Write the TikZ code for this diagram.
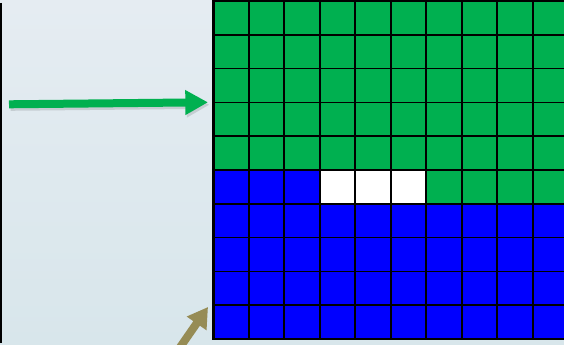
\documentclass[tikz,border=0pt]{standalone}
\usepackage{tikz}
\usetikzlibrary{arrows.meta}

\definecolor{cellgreen}{HTML}{00B050}
\definecolor{cellblue}{HTML}{0000FF}
\definecolor{pointerolive}{HTML}{968C55}
\definecolor{bgtop}{HTML}{E5ECF2}
\definecolor{bgbot}{HTML}{D8E6EB}

\begin{document}
\begin{tikzpicture}[x=0.75pt,y=-0.75pt,>=Triangle]
  \useasboundingbox (0,0) rectangle (564,345);
  \clip (0,0) rectangle (564,345);
  \shade[top color=bgtop,bottom color=bgbot] (0,0) rectangle (564,345);
  \draw[line width=1.1pt] (1,3)--(1,343);
  % cells
  \def\gx{213.3} \def\gy{1} \def\cw{35.5} \def\rh{33.8}
  \fill[cellgreen] (\gx,\gy) rectangle ({\gx+10*\cw},{\gy+6*\rh});
  \fill[cellblue] (\gx,{\gy+6*\rh}) rectangle ({\gx+10*\cw},{\gy+10*\rh});
  \fill[cellblue] (\gx,{\gy+5*\rh}) rectangle ({\gx+3*\cw},{\gy+6*\rh});
  \fill[white] ({\gx+3*\cw},{\gy+5*\rh}) rectangle ({\gx+6*\cw},{\gy+6*\rh});
  % grid lines
  \foreach \i in {1,...,9}
    \draw[line width=1.5pt] ({\gx+\i*\cw},\gy)--({\gx+\i*\cw},{\gy+10*\rh});
  \foreach \j in {1,...,9}
    \draw[line width=1.1pt] (\gx,{\gy+\j*\rh})--({\gx+10*\cw},{\gy+\j*\rh});
  \draw[line width=2.2pt] ({\gx+10*\cw},\gy)--(\gx,\gy)--(\gx,{\gy+10*\rh})--({\gx+10*\cw},{\gy+10*\rh});
  % pointers
  \coordinate (gtail) at (9,104.3);
  \coordinate (gtip) at (208,102.3);
  \coordinate (otail) at (174,356);
  \coordinate (otip) at (208,307);
  \draw[->,line width=6pt,black,opacity=0.12,-{Triangle[length=17pt,width=17.5pt]}]
    ([shift={(1.5,2.5)}]gtail)--([shift={(1.5,2.5)}]gtip);
  \draw[->,line width=6pt,cellgreen,-{Triangle[length=17pt,width=17.5pt]}] (gtail)--(gtip);
  \draw[->,line width=6pt,pointerolive,-{Triangle[length=15pt,width=17pt]}] (otail)--(otip);
\end{tikzpicture}
\end{document}
